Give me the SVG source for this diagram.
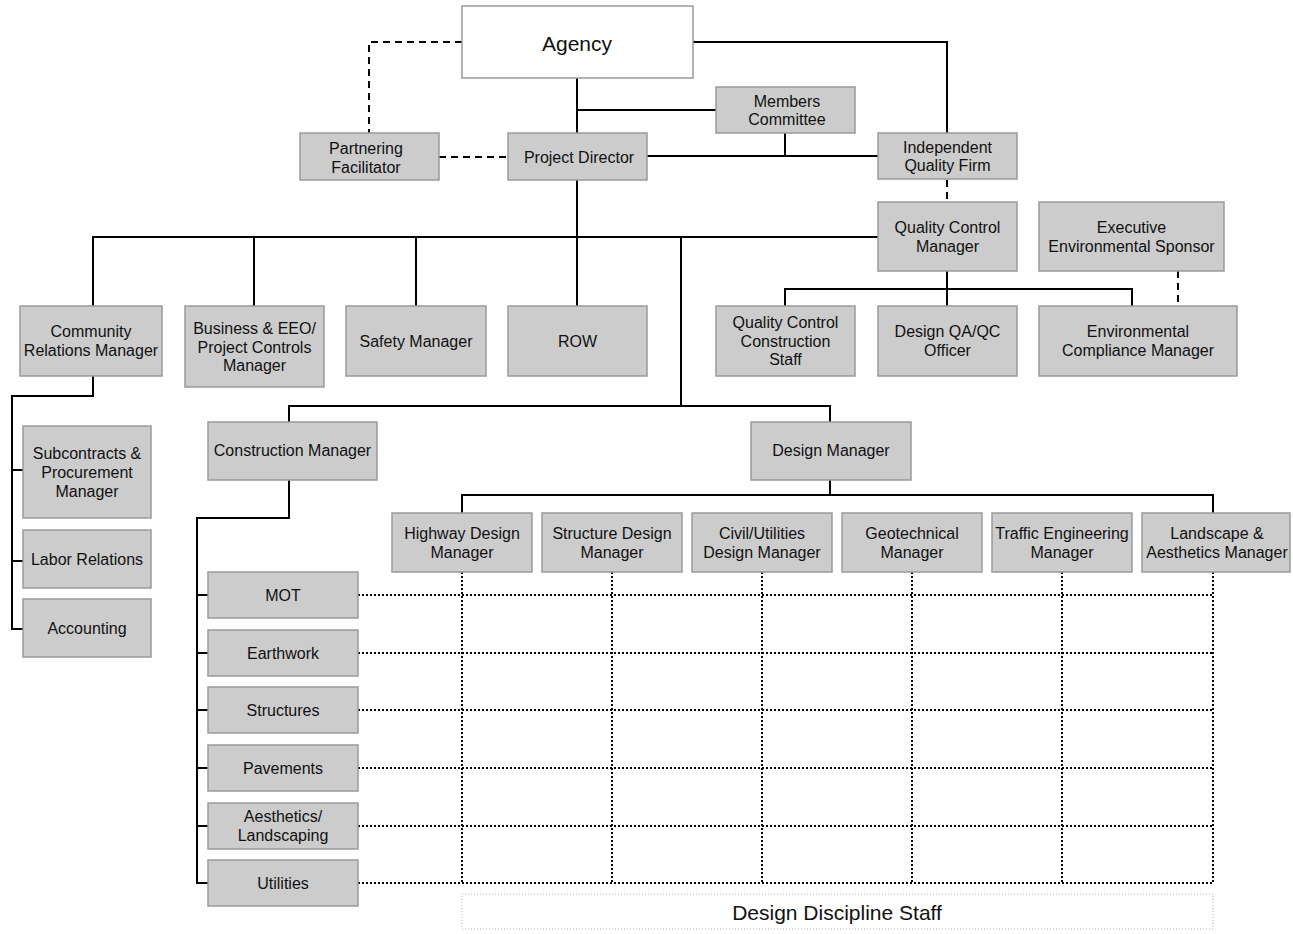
<svg xmlns="http://www.w3.org/2000/svg" width="1293" height="934" viewBox="0 0 1293 934">
<style>
.box{fill:#cccccc;stroke:#9a9a9a;stroke-width:1.5}
.agency{fill:#ffffff;stroke:#9a9a9a;stroke-width:1.5}
text{font-family:"Liberation Sans",Arial,sans-serif;font-size:16px;fill:#111;text-anchor:middle;dominant-baseline:central}
.big{font-size:21px}
.mid{font-size:21px}
.solid{fill:none;stroke:#000;stroke-width:2}
.dash{fill:none;stroke:#000;stroke-width:2;stroke-dasharray:7 5}
.dot{fill:none;stroke:#000;stroke-width:2;stroke-dasharray:2 2}
.staff{fill:#fff;stroke:#b5b5b5;stroke-width:1;stroke-dasharray:1 2}
</style>
<rect width="1293" height="934" fill="#fff"/>
<g id="connectors">
<path class="dash" d="M462 42 H369 V133"/>
<path class="dash" d="M439 157 H508"/>
<path class="solid" d="M577 78 V133"/>
<path class="solid" d="M577 110 H716"/>
<path class="solid" d="M693 42 H947 V133"/>
<path class="solid" d="M647 156 H878"/>
<path class="solid" d="M785 133 V156"/>
<path class="dash" d="M947 180 V202"/>
<path class="solid" d="M577 180 V306"/>
<path class="solid" d="M93 306 V237 H878"/>
<path class="solid" d="M254 237 V306"/>
<path class="solid" d="M416 237 V306"/>
<path class="solid" d="M681 237 V406"/>
<path class="solid" d="M947 271 V306"/>
<path class="solid" d="M785 306 V289 H1132 V306"/>
<path class="dash" d="M1178 271 V306"/>
<path class="solid" d="M93 376 V396 H12 V629 H23"/>
<path class="solid" d="M12 470 H23"/>
<path class="solid" d="M12 561 H23"/>
<path class="solid" d="M289 422 V406 H830 V422"/>
<path class="solid" d="M289 480 V518 H197 V883 H208"/>
<path class="solid" d="M197 595 H208"/>
<path class="solid" d="M197 653 H208"/>
<path class="solid" d="M197 710 H208"/>
<path class="solid" d="M197 768 H208"/>
<path class="solid" d="M197 826 H208"/>
<path class="solid" d="M830 480 V495"/>
<path class="solid" d="M462 513 V495 H1213 V513"/>
<path class="dot" d="M358 595 H1213 M358 653 H1213 M358 710 H1213 M358 768 H1213 M358 826 H1213 M358 883 H1213"/>
<path class="dot" d="M462 572 V883 M612 572 V883 M762 572 V883 M912 572 V883 M1062 572 V883 M1213 572 V883"/>
</g>
<g id="agency"><rect class="agency" x="462" y="6" width="231" height="72"/><text class="big" x="577" y="43">Agency</text></g>
<g id="partnering"><rect class="box" x="300" y="133" width="139" height="47"/><text x="366" y="148">Partnering</text><text x="366" y="167">Facilitator</text></g>
<g id="project-director"><rect class="box" x="508" y="133" width="139" height="47"/><text x="579" y="157">Project Director</text></g>
<g id="members-committee"><rect class="box" x="716" y="87" width="139" height="46"/><text x="787" y="101">Members</text><text x="787" y="119">Committee</text></g>
<g id="independent-quality"><rect class="box" x="878" y="133" width="139" height="46"/><text x="947.5" y="147">Independent</text><text x="947.5" y="165">Quality Firm</text></g>
<g id="qc-manager"><rect class="box" x="878" y="202" width="139" height="69"/><text x="947.5" y="227">Quality Control</text><text x="947.5" y="246">Manager</text></g>
<g id="exec-env-sponsor"><rect class="box" x="1039" y="202" width="185" height="69"/><text x="1131.5" y="227">Executive</text><text x="1131.5" y="246">Environmental Sponsor</text></g>
<g id="community-relations"><rect class="box" x="20" y="306" width="142" height="70"/><text x="91" y="331">Community</text><text x="91" y="350">Relations Manager</text></g>
<g id="business-eeo"><rect class="box" x="185" y="306" width="139" height="81"/><text x="254.5" y="328">Business &amp; EEO/</text><text x="254.5" y="347">Project Controls</text><text x="254.5" y="365">Manager</text></g>
<g id="safety"><rect class="box" x="346" y="306" width="140" height="70"/><text x="416" y="341">Safety Manager</text></g>
<g id="row"><rect class="box" x="508" y="306" width="139" height="70"/><text x="577.5" y="341">ROW</text></g>
<g id="qc-construction"><rect class="box" x="716" y="306" width="139" height="70"/><text x="785.5" y="322">Quality Control</text><text x="785.5" y="341">Construction</text><text x="785.5" y="359">Staff</text></g>
<g id="design-qaqc"><rect class="box" x="878" y="306" width="139" height="70"/><text x="947.5" y="331">Design QA/QC</text><text x="947.5" y="350">Officer</text></g>
<g id="env-compliance"><rect class="box" x="1039" y="306" width="198" height="70"/><text x="1138" y="331">Environmental</text><text x="1138" y="350">Compliance Manager</text></g>
<g id="subcontracts"><rect class="box" x="23" y="426" width="128" height="92"/><text x="87" y="453">Subcontracts &amp;</text><text x="87" y="472">Procurement</text><text x="87" y="491">Manager</text></g>
<g id="labor-relations"><rect class="box" x="23" y="530" width="128" height="58"/><text x="87" y="559">Labor Relations</text></g>
<g id="accounting"><rect class="box" x="23" y="599" width="128" height="58"/><text x="87" y="628">Accounting</text></g>
<g id="construction-manager"><rect class="box" x="208" y="422" width="169" height="58"/><text x="292.5" y="450">Construction Manager</text></g>
<g id="design-manager"><rect class="box" x="751" y="422" width="160" height="58"/><text x="831" y="450">Design Manager</text></g>
<g id="highway-design"><rect class="box" x="392" y="513" width="140" height="59"/><text x="462" y="533">Highway Design</text><text x="462" y="552">Manager</text></g>
<g id="structure-design"><rect class="box" x="542" y="513" width="140" height="59"/><text x="612" y="533">Structure Design</text><text x="612" y="552">Manager</text></g>
<g id="civil-utilities"><rect class="box" x="692" y="513" width="140" height="59"/><text x="762" y="533">Civil/Utilities</text><text x="762" y="552">Design Manager</text></g>
<g id="geotechnical"><rect class="box" x="842" y="513" width="140" height="59"/><text x="912" y="533">Geotechnical</text><text x="912" y="552">Manager</text></g>
<g id="traffic"><rect class="box" x="992" y="513" width="140" height="59"/><text x="1062" y="533">Traffic Engineering</text><text x="1062" y="552">Manager</text></g>
<g id="landscape"><rect class="box" x="1142" y="513" width="148" height="59"/><text x="1217" y="533">Landscape &amp;</text><text x="1217" y="552">Aesthetics Manager</text></g>
<g id="mot"><rect class="box" x="208" y="572" width="150" height="46"/><text x="283" y="595">MOT</text></g>
<g id="earthwork"><rect class="box" x="208" y="630" width="150" height="46"/><text x="283" y="653">Earthwork</text></g>
<g id="structures"><rect class="box" x="208" y="687" width="150" height="46"/><text x="283" y="710">Structures</text></g>
<g id="pavements"><rect class="box" x="208" y="745" width="150" height="46"/><text x="283" y="768">Pavements</text></g>
<g id="aesthetics"><rect class="box" x="208" y="803" width="150" height="46"/><text x="283" y="816">Aesthetics/</text><text x="283" y="835">Landscaping</text></g>
<g id="utilities"><rect class="box" x="208" y="860" width="150" height="46"/><text x="283" y="883">Utilities</text></g>
<g id="design-staff"><rect class="staff" x="462" y="894" width="751" height="35"/><text class="mid" x="837" y="912">Design Discipline Staff</text></g>
</svg>
